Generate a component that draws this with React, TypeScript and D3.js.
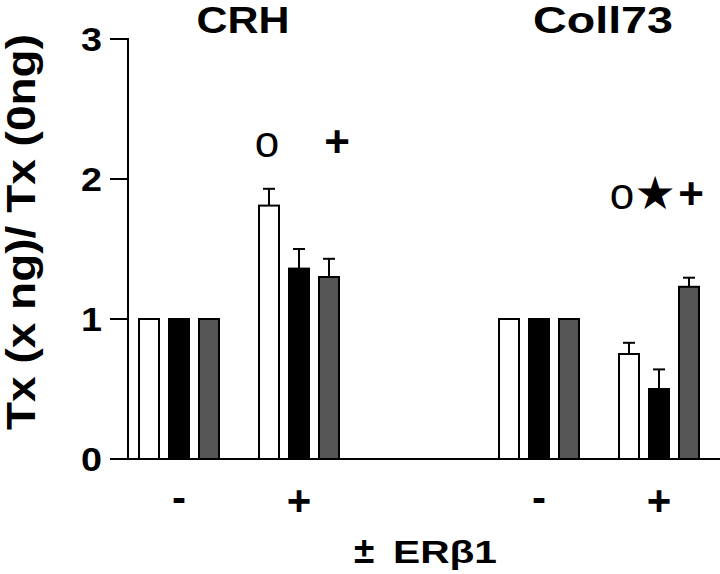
import React from 'react';
import * as d3 from 'd3';

// 数据
const genes = ['CRH', 'Coll73'];
const erStates = ['-', '+'];
const yTicks = [0, 1, 2, 3];

const crhMinus = [1.0, 1.0, 1.0];
const crhPlus = [1.81, 1.36, 1.3];
const crhPlusErr = [0.12, 0.14, 0.13];
const collMinus = [1.0, 1.0, 1.0];
const collPlus = [0.75, 0.5, 1.23];
const collPlusErr = [0.08, 0.14, 0.065];

// 显著性标记
const marks = [
  { gene: 'CRH', er: '+', series: 0, text: 'o', level: 2.16 },
  { gene: 'CRH', er: '+', series: 2, text: '+', level: 2.16 },
  { gene: 'Coll73', er: '+', series: 0, text: 'o', level: 1.786 },
  { gene: 'Coll73', er: '+', series: 1, text: '★', level: 1.786 },
  { gene: 'Coll73', er: '+', series: 2, text: '+', level: 1.786 },
];
// 标记的水平微调 (px)
const markNudge = [-2, 8, -7, -4, 2];

const groups = [
  { gene: 'CRH', er: '-', values: crhMinus, errs: null },
  { gene: 'CRH', er: '+', values: crhPlus, errs: crhPlusErr },
  { gene: 'Coll73', er: '-', values: collMinus, errs: null },
  { gene: 'Coll73', er: '+', values: collPlus, errs: collPlusErr },
];

const FILLS = ['#fff', '#000', '#555'];
const FONT = '"Liberation Sans", Arial, Helvetica, sans-serif';

const App = () => {
  const width = 720;
  const height = 574;

  // 每个基因两格，中间空一格
  const slots = ['CRH|-', 'CRH|+', 'gap', 'Coll73|-', 'Coll73|+'];
  const x = d3.scaleBand().domain(slots).range([119, 719]);
  const xs = d3.scaleBand<number>().domain([0, 1, 2]).range([15, 105])
    .paddingInner(1 / 3).paddingOuter(1 / 6);
  const y = d3.scaleLinear().domain([0, 3]).range([459, 39]);

  const slotCenter = (g, e) => x(`${g}|${e}`) + x.bandwidth() / 2;
  const barCenter = (g, e, s) => x(`${g}|${e}`) + xs(s) + xs.bandwidth() / 2;

  return (
    <svg width={width} height={height}
      style={{ position: 'absolute', left: 0, top: 0, background: '#fff' }}>
      {/* 坐标轴 */}
      <line x1={128} x2={128} y1={y(3) - 1} y2={y(0)} stroke="#000" strokeWidth={2} />
      <line x1={110} x2={720} y1={y(0)} y2={y(0)} stroke="#000" strokeWidth={2} />
      {yTicks.map(t => (
        <g key={t}>
          <line x1={110} x2={128} y1={y(t)} y2={y(t)} stroke="#000" strokeWidth={2} />
          <text x={102} y={y(t)} dy="0.36em" textAnchor="end" fontFamily={FONT}
            fontWeight="bold" fontSize={34} textLength={21} lengthAdjust="spacingAndGlyphs">{t}</text>
        </g>
      ))}

      {/* 柱子 + 误差线 */}
      {groups.map(grp => grp.values.map((v, s) => {
        const cx = barCenter(grp.gene, grp.er, s);
        const w = xs.bandwidth();
        const top = y(v);
        return (
          <g key={`${grp.gene}${grp.er}${s}`}>
            {grp.errs && (
              <g stroke="#000" strokeWidth={2}>
                <line x1={cx} x2={cx} y1={top} y2={y(v + grp.errs[s])} />
                <line x1={cx - 6} x2={cx + 6} y1={y(v + grp.errs[s])} y2={y(v + grp.errs[s])} />
              </g>
            )}
            <rect x={cx - w / 2} y={top} width={w} height={y(0) - top}
              fill={FILLS[s]} stroke="#000" strokeWidth={2} />
          </g>
        );
      }))}

      {/* x 分类标签 */}
      {genes.map(g => erStates.map(e => (
        <text key={g + e} x={slotCenter(g, e)} y={e === '-' ? 497 : 500} dy="0.36em" textAnchor="middle"
          fontFamily={FONT} fontWeight="bold" fontSize={42}>{e}</text>
      )))}

      {/* 基因标题 */}
      {genes.map(g => {
        const mid = (slotCenter(g, '-') + slotCenter(g, '+')) / 2 + 4;
        const len = g === 'CRH' ? 93 : 140;
        return (
          <text key={g} x={mid - len / 2} y={33} fontFamily={FONT} fontWeight="bold"
            fontSize={36} textLength={len} lengthAdjust="spacingAndGlyphs">{g}</text>
        );
      })}

      {/* 标记 */}
      {marks.map((m, i) => (
        <text key={i} x={barCenter(m.gene, m.er, m.series) + markNudge[i]} y={y(m.level)}
          textAnchor="middle"
          fontFamily={m.text === '★' ? '"DejaVu Sans", sans-serif' : FONT}
          fontWeight={m.text === '+' ? 'bold' : 'normal'}
          fontSize={m.text === '★' ? 46 : 44}>{m.text}</text>
      ))}

      {/* 轴标题 */}
      <text x={354} y={563} fontFamily={FONT} fontWeight="bold" fontSize={37}>±</text>
      <text x={393} y={563} fontFamily={FONT} fontWeight="bold" fontSize={31}
        textLength={104} lengthAdjust="spacingAndGlyphs">ERβ1</text>
      <text transform="translate(35,232) rotate(-90)" textAnchor="middle" fontFamily={FONT}
        fontWeight="bold" fontSize={40} textLength={396} lengthAdjust="spacingAndGlyphs">
        Tx (x ng)/ Tx (0ng)
      </text>
    </svg>
  );
};

export default App;
